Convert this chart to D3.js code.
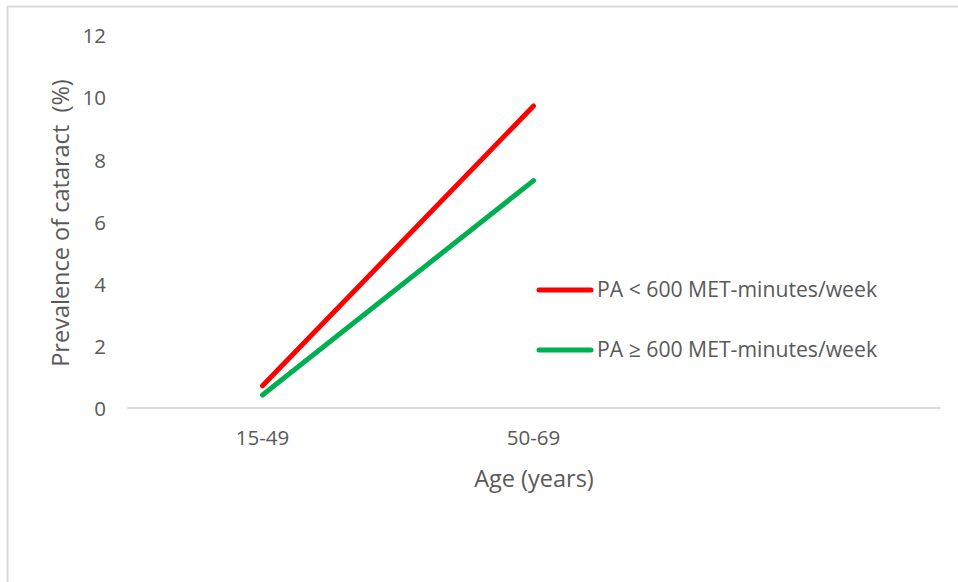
<!DOCTYPE html>
<html>
<head>
<meta charset="utf-8">
<script src="https://cdn.jsdelivr.net/npm/d3@7"></script>
<style>
  html, body { margin: 0; padding: 0; background: #fff; }
  svg { display: block; }
  text { font-family: "Open Sans", "Noto Sans", sans-serif; fill: #595959; }
</style>
</head>
<body>
<svg id="chart" width="958" height="582"></svg>
<script>
const categories = ["15-49", "50-69", ""];
const seriesNames = ["PA < 600 MET-minutes/week", "PA \u2265 600 MET-minutes/week"];
const seriesLow = [0.7, 9.7];
const seriesHigh = [0.4, 7.3];
const seriesColors = ["#FF0000", "#00B050"];
const yTicks = [0, 2, 4, 6, 8, 10, 12];

const svg = d3.select("#chart");

// outer frame (only left and top visible)
svg.append("line").attr("x1", 7.5).attr("x2", 7.5).attr("y1", 6).attr("y2", 582)
  .attr("stroke", "#d9d9d9").attr("stroke-width", 2);
svg.append("line").attr("x1", 7).attr("x2", 958).attr("y1", 6.5).attr("y2", 6.5)
  .attr("stroke", "#d9d9d9").attr("stroke-width", 2);

const x = d3.scaleBand().domain(categories).range([127, 940]);
const y = d3.scaleLinear().domain([0, 12]).range([407.5, 34.5]);

// y tick labels
const yAxis = d3.axisLeft(y).tickValues(yTicks).tickSize(0).tickPadding(0).tickFormat(d3.format("d"));
const gy = svg.append("g").attr("transform", "translate(106,1)").call(yAxis);
gy.select(".domain").remove();
gy.selectAll("text").style("font-size", "20.5px").attr("fill", "#595959").attr("dy", "0.35em");

// x axis
const xAxis = d3.axisBottom(x).tickSize(0).tickPadding(0);
const gx = svg.append("g").attr("transform", "translate(0,407.5)").call(xAxis);
gx.select(".domain").attr("stroke", "#d9d9d9").attr("stroke-width", 2);
gx.selectAll("text").style("font-size", "20.5px").attr("fill", "#595959").attr("y", 30).attr("dy", "0.35em");

// axis titles
svg.append("text").attr("x", 534).attr("y", 479).attr("text-anchor", "middle")
  .attr("dy", "0.35em").style("font-size", "23.5px").text("Age (years)");
svg.append("text").attr("transform", "translate(61,223) rotate(-90)").attr("text-anchor", "middle")
  .attr("dy", "0.35em").style("font-size", "23.5px").style("white-space", "pre")
  .attr("xml:space", "preserve").text("Prevalence of cataract  (%)");

// lines
const line = d3.line().x((d, i) => x(categories[i]) + x.bandwidth() / 2).y(d => y(d));
[seriesLow, seriesHigh].forEach((s, k) => {
  svg.append("path").datum(s).attr("d", line).attr("fill", "none")
    .attr("stroke", seriesColors[k]).attr("stroke-width", 5)
    .attr("stroke-linecap", "round").attr("stroke-linejoin", "round");
});

// legend
const legendY = [290, 350];
seriesNames.forEach((name, k) => {
  svg.append("line").attr("x1", 539).attr("x2", 591).attr("y1", legendY[k]).attr("y2", legendY[k])
    .attr("stroke", seriesColors[k]).attr("stroke-width", 5).attr("stroke-linecap", "round");
  svg.append("text").attr("x", 597).attr("y", legendY[k]).attr("dy", "0.35em")
    .style("font-size", "21.2px").text(name);
});
</script>
</body>
</html>
